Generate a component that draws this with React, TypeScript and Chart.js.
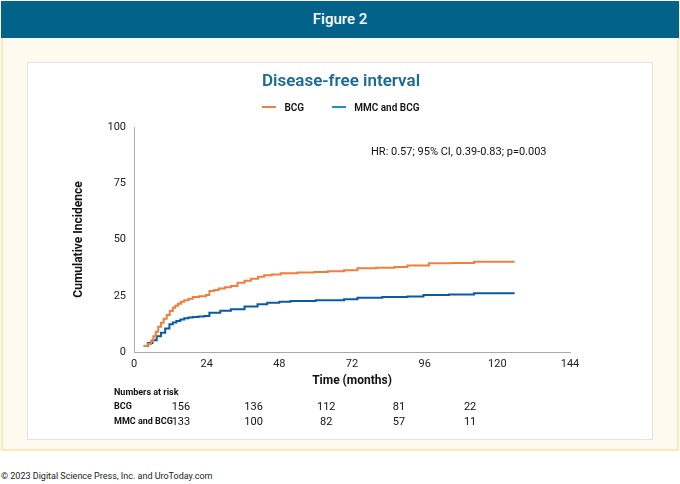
import React, { useEffect, useRef } from "react";
import Chart from "chart.js/auto";

// Kaplan-Meier style cumulative incidence, months vs %
const bcgTime = [3.2, 4.5, 5.6, 6.4, 7.2, 8.0, 8.9, 9.8, 10.8, 11.8, 12.8, 13.6, 14.5, 15.5, 16.6, 18.0, 19.4, 21.5, 23.8, 24.9, 26.5, 28, 30, 32, 34.2, 36.5, 38.6, 41, 43, 45.5, 48.5, 54, 59.5, 64, 69.4, 73.8, 80, 86, 90.3, 97.4, 105, 112.3, 125.7];
const bcgValue = [2.7, 3.6, 4.9, 7.0, 9, 11.2, 13, 14.8, 16.5, 18.2, 19.7, 20.6, 21.5, 22.3, 23, 23.7, 24.4, 24.8, 25.3, 27.1, 27.6, 28.2, 28.8, 29.3, 30.8, 31.7, 32.6, 33.4, 34.1, 34.5, 35, 35.3, 35.6, 35.9, 36.3, 37.2, 37.5, 37.8, 38.5, 39.4, 39.6, 40.1, 40.1];
const mmcTime = [3.2, 4.6, 6.1, 7.5, 8.9, 10.3, 11.7, 12.8, 14, 15.3, 16.6, 18.0, 19.4, 21.3, 23.2, 24.9, 28.5, 32, 36.5, 40.8, 44, 48, 51.7, 60, 69.4, 73.8, 82, 90.3, 95.6, 104, 112.3, 125.7];
const mmcValue = [2.7, 4.0, 5.2, 7.0, 8.6, 10.5, 12.3, 13.1, 13.8, 14.4, 15, 15.3, 15.6, 15.8, 16, 17.5, 18.3, 19, 20.2, 21.2, 21.9, 22.3, 22.7, 23.0, 23.4, 24.1, 24.4, 24.7, 25.3, 25.6, 26.1, 26.1];

const yTicks = [0, 25, 50, 75, 100];
const xTicks = [0, 24, 48, 72, 96, 120, 144];
const riskTimes = [15.5, 39.5, 63.5, 87.5, 111];
const riskBcg = [156, 136, 112, 81, 22];
const riskMmc = [133, 100, 82, 57, 11];

const ORANGE = "#f07f3c";
const BLUE = "#0b5aa6";
const FONT = "Roboto, 'Noto Sans', sans-serif";

function toPoints(t: number[], v: number[]) {
  return t.map((x, i) => ({ x, y: v[i] }));
}

function KMChart() {
  const canvasRef = useRef<HTMLCanvasElement | null>(null);

  useEffect(() => {
    if (!canvasRef.current) return;
    const chart = new Chart(canvasRef.current, {
      type: "line",
      data: {
        datasets: [
          { label: "BCG", data: toPoints(bcgTime, bcgValue), borderColor: ORANGE, borderWidth: 2, pointRadius: 0, stepped: true },
          { label: "MMC and BCG", data: toPoints(mmcTime, mmcValue), borderColor: BLUE, borderWidth: 2, pointRadius: 0, stepped: true },
        ],
      },
      options: {
        animation: false,
        responsive: false,
        layout: { padding: { top: 64, right: 84, bottom: 49, left: 40 } },
        plugins: { legend: { display: false }, tooltip: { enabled: false } },
        scales: {
          x: {
            type: "linear",
            min: 0,
            max: 144,
            afterBuildTicks: (s: any) => { s.ticks = xTicks.map((value) => ({ value })); },
            afterFit: (s: any) => { s.height = 40; },
            grid: { display: false, drawTicks: true, tickLength: 4, tickColor: "#999" },
            border: { color: "#aaa" },
            ticks: { color: "#222", font: { family: FONT, size: 11 }, padding: 2, maxRotation: 0 },
            title: { display: true, text: "Time (months)", color: "#111", font: { family: FONT, size: 12, weight: "bold" }, padding: { top: 0 } },
          },
          y: {
            min: 0,
            max: 100,
            afterBuildTicks: (s: any) => { s.ticks = yTicks.map((value) => ({ value })); },
            afterFit: (s: any) => { s.width = 66; },
            grid: { display: false, tickLength: 4, tickColor: "#999" },
            border: { color: "#aaa" },
            ticks: { color: "#222", font: { family: FONT, size: 11 }, padding: 4 },
            title: { display: true, text: "Cumulative Incidence", color: "#111", font: { family: FONT, size: 12, weight: "bold" }, padding: { bottom: 12 } },
          },
        },
      },
      plugins: [
        {
          id: "annotations",
          afterDraw: (c: any) => {
            const ctx = c.ctx;
            const xs = c.scales.x;
            ctx.save();
            ctx.fillStyle = "#111";
            ctx.font = `11px ${FONT}`;
            ctx.textBaseline = "middle";
            ctx.textAlign = "left";
            ctx.fillText("HR: 0.57; 95% CI, 0.39-0.83; p=0.003", 343, 89);
            ctx.font = `bold 9px ${FONT}`;
            ctx.fillText("Numbers at risk", 86, 330);
            ctx.fillText("BCG", 86, 344);
            ctx.fillText("MMC and BCG", 86, 359);
            ctx.font = `11px ${FONT}`;
            ctx.textAlign = "center";
            riskTimes.forEach((t, i) => {
              const px = xs.getPixelForValue(t);
              ctx.fillText(String(riskBcg[i]), px, 344);
              ctx.fillText(String(riskMmc[i]), px, 359);
            });
            ctx.restore();
          },
        },
      ],
    });
    return () => chart.destroy();
  }, []);

  return <canvas ref={canvasRef} width={626} height={378} style={{ position: "absolute", left: 0, top: 0 }} />;
}

function LegendItem({ color, label }: { color: string; label: string }) {
  return (
    <span style={{ display: "inline-flex", alignItems: "center", margin: "0 14px" }}>
      <span style={{ width: 14, height: 2, background: color, marginRight: 8, display: "inline-block" }} />
      {label}
    </span>
  );
}

export default function App() {
  useEffect(() => {
    document.body.style.margin = "0";
  }, []);
  return (
    <div style={{ position: "relative", width: 680, height: 484, background: "#fff", fontFamily: FONT, overflow: "hidden" }}>
      <div style={{ position: "absolute", left: 1, top: 1, width: 678, height: 37, background: "#03628a", color: "#fff", textAlign: "center", lineHeight: "37px", fontSize: 15, fontWeight: 500 }}>
        Figure 2
      </div>
      <div style={{ position: "absolute", left: 1, top: 38, width: 674, height: 411, background: "#fffaf0", border: "2px solid #fde9b8", borderTop: "none" }} />
      <div style={{ position: "absolute", left: 27, top: 62, width: 626, height: 378, background: "#fff", border: "1px solid #e2e2e2", boxSizing: "border-box" }}>
        <KMChart />
        <div style={{ position: "absolute", left: 0, top: 0, width: 626, textAlign: "center", marginTop: 0 }}>
          <div style={{ color: "#1a6a93", fontSize: 17, fontWeight: 600, paddingTop: 7 }}>Disease-free interval</div>
          <div style={{ fontSize: 10, fontWeight: 600, color: "#111", marginTop: 9 }}>
            <LegendItem color={ORANGE} label="BCG" />
            <LegendItem color="#1f90c9" label="MMC and BCG" />
          </div>
        </div>
      </div>
      <div style={{ position: "absolute", left: 1, top: 471, fontSize: 9, color: "#222" }}>
        © 2023 Digital Science Press, Inc. and UroToday.com
      </div>
    </div>
  );
}
